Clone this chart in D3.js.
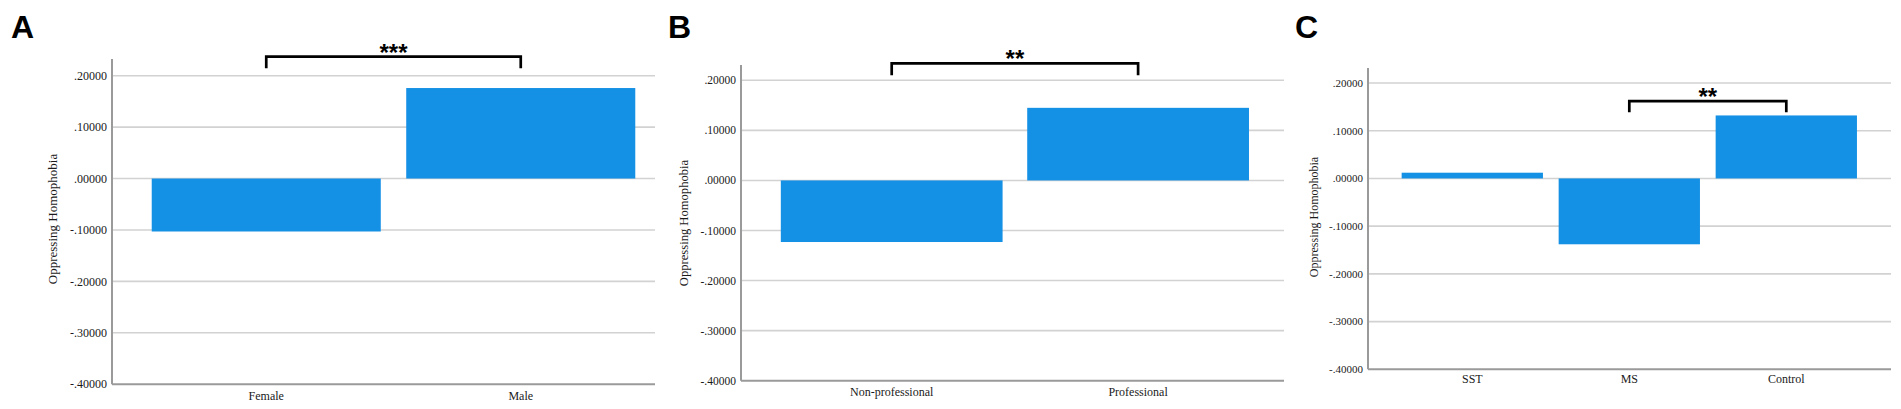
<!DOCTYPE html>
<html>
<head>
<meta charset="utf-8">
<script src="https://cdn.jsdelivr.net/npm/d3@7"></script>
<style>
	body { margin: 0; background: #fff; }
	svg { display: block; }
</style>
</head>
<body>
<div id="chart"></div>
<script>
// data
var yTicks = [-0.4, -0.3, -0.2, -0.1, 0, 0.1, 0.2];

var catsA = ["Female", "Male"];
var valsA = [-0.103, 0.176];
var sigA = {from: "Female", to: "Male", label: "***"};

var catsB = ["Non-professional", "Professional"];
var valsB = [-0.123, 0.145];
var sigB = {from: "Non-professional", to: "Professional", label: "**"};

var catsC = ["SST", "MS", "Control"];
var valsC = [0.012, -0.138, 0.132];
var sigC = {from: "MS", to: "Control", label: "**"};

var yTitle = "Oppressing Homophobia";

var width = 1901;
var height = 409;
var barColor = "#1490e5";

var svg = d3.select("#chart").append("svg")
	.attr("width", width)
	.attr("height", height);

// SPSS style labels: ".20000", "-.10000"
var fmt = function(d) {
	return d3.format(".5f")(d).replace("\u2212", "-").replace("0.", ".");
};

// layout of each panel (pixels)
var panels = [
	{letter: "A", lx: 11, cats: catsA, vals: valsA, sig: sigA,
		axisX: 112, gridEnd: 655, axisTop: 59, yTop: 75.7, yBot: 384.2,
		band: [139, 648], tickSize: 12, titleX: 52, titleY: 219, titleSize: 13,
		labelY: 400, brTop: 56.7, brLeg: 11.6},
	{letter: "B", lx: 668, cats: catsB, vals: valsB, sig: sigB,
		axisX: 741, gridEnd: 1284, axisTop: 65, yTop: 80.3, yBot: 380.7,
		band: [768.5, 1261.3], tickSize: 11.5, titleX: 684, titleY: 223, titleSize: 12.6,
		labelY: 396, brTop: 63.3, brLeg: 12},
	{letter: "C", lx: 1295, cats: catsC, vals: valsC, sig: sigC,
		axisX: 1368, gridEnd: 1891, axisTop: 68, yTop: 83, yBot: 369.3,
		band: [1393.8, 1864.8], tickSize: 11, titleX: 1314, titleY: 217, titleSize: 12,
		labelY: 383, brTop: 101.2, brLeg: 11}
];

panels.forEach(function(p) {
	var g = svg.append("g");

	var y = d3.scaleLinear()
		.domain([-0.4, 0.2])
		.range([p.yBot, p.yTop]);

	var x = d3.scaleBand()
		.domain(p.cats)
		.range(p.band)
		.paddingInner(0.1)
		.paddingOuter(0.05);

	// panel letter
	g.append("text")
		.text(p.letter)
		.attr("x", p.lx)
		.attr("y", 38)
		.style("font-family", "Liberation Sans, Arial, sans-serif")
		.style("font-weight", "bold")
		.style("font-size", "32px")
		.style("fill", "#000");

	// gridlines
	g.selectAll(".grid")
		.data(yTicks.filter(function(d) { return d > -0.4; }))
		.enter().append("line")
		.attr("x1", p.axisX)
		.attr("x2", p.gridEnd)
		.attr("y1", function(d) { return y(d); })
		.attr("y2", function(d) { return y(d); })
		.style("stroke", "#d2d2d2")
		.style("stroke-width", 1.6);

	// tick labels
	g.selectAll(".tick")
		.data(yTicks)
		.enter().append("text")
		.text(fmt)
		.attr("x", p.axisX - 5)
		.attr("y", function(d) { return y(d); })
		.attr("dy", "0.35em")
		.style("text-anchor", "end")
		.style("font-family", "Liberation Serif, Times New Roman, serif")
		.style("font-size", p.tickSize + "px")
		.style("fill", "#1a1a1a");

	// bars
	g.selectAll(".bar")
		.data(p.cats)
		.enter().append("rect")
		.attr("x", function(d) { return x(d); })
		.attr("width", x.bandwidth())
		.attr("y", function(d, i) { return y(Math.max(0, p.vals[i])); })
		.attr("height", function(d, i) { return Math.abs(y(p.vals[i]) - y(0)); })
		.style("fill", barColor);

	// axes lines
	g.append("line")
		.attr("x1", p.axisX)
		.attr("x2", p.axisX)
		.attr("y1", p.axisTop)
		.attr("y2", y(-0.4))
		.style("stroke", "#9a9a9a")
		.style("stroke-width", 2);
	g.append("line")
		.attr("x1", p.axisX)
		.attr("x2", p.gridEnd)
		.attr("y1", y(-0.4))
		.attr("y2", y(-0.4))
		.style("stroke", "#9a9a9a")
		.style("stroke-width", 2);

	// category labels
	g.selectAll(".cat")
		.data(p.cats)
		.enter().append("text")
		.text(function(d) { return d; })
		.attr("x", function(d) { return x(d) + x.bandwidth()/2; })
		.attr("y", p.labelY)
		.style("text-anchor", "middle")
		.style("font-family", "Liberation Serif, Times New Roman, serif")
		.style("font-size", "12px")
		.style("fill", "#1a1a1a");

	// y axis title
	g.append("text")
		.text(yTitle)
		.style("text-anchor", "middle")
		.style("font-family", "Liberation Serif, Times New Roman, serif")
		.style("font-size", p.titleSize + "px")
		.style("fill", "#1a1a1a")
		.attr("dy", "0.35em")
		.attr("transform", "translate("+p.titleX+", "+p.titleY+"), rotate(-90)");

	// significance bracket
	var x1 = x(p.sig.from) + x.bandwidth()/2;
	var x2 = x(p.sig.to) + x.bandwidth()/2;
	g.append("path")
		.attr("d", "M"+x1+","+(p.brTop+p.brLeg)+"V"+p.brTop+"H"+x2+"V"+(p.brTop+p.brLeg))
		.style("fill", "none")
		.style("stroke", "#000")
		.style("stroke-width", 2.7);
	g.append("text")
		.text(p.sig.label)
		.attr("x", (x1+x2)/2)
		.attr("y", p.brTop + 4)
		.style("text-anchor", "middle")
		.style("font-family", "Liberation Sans, Arial, sans-serif")
		.style("font-weight", "bold")
		.style("font-size", "24px")
		.style("fill", "#000");
});
</script>
</body>
</html>
